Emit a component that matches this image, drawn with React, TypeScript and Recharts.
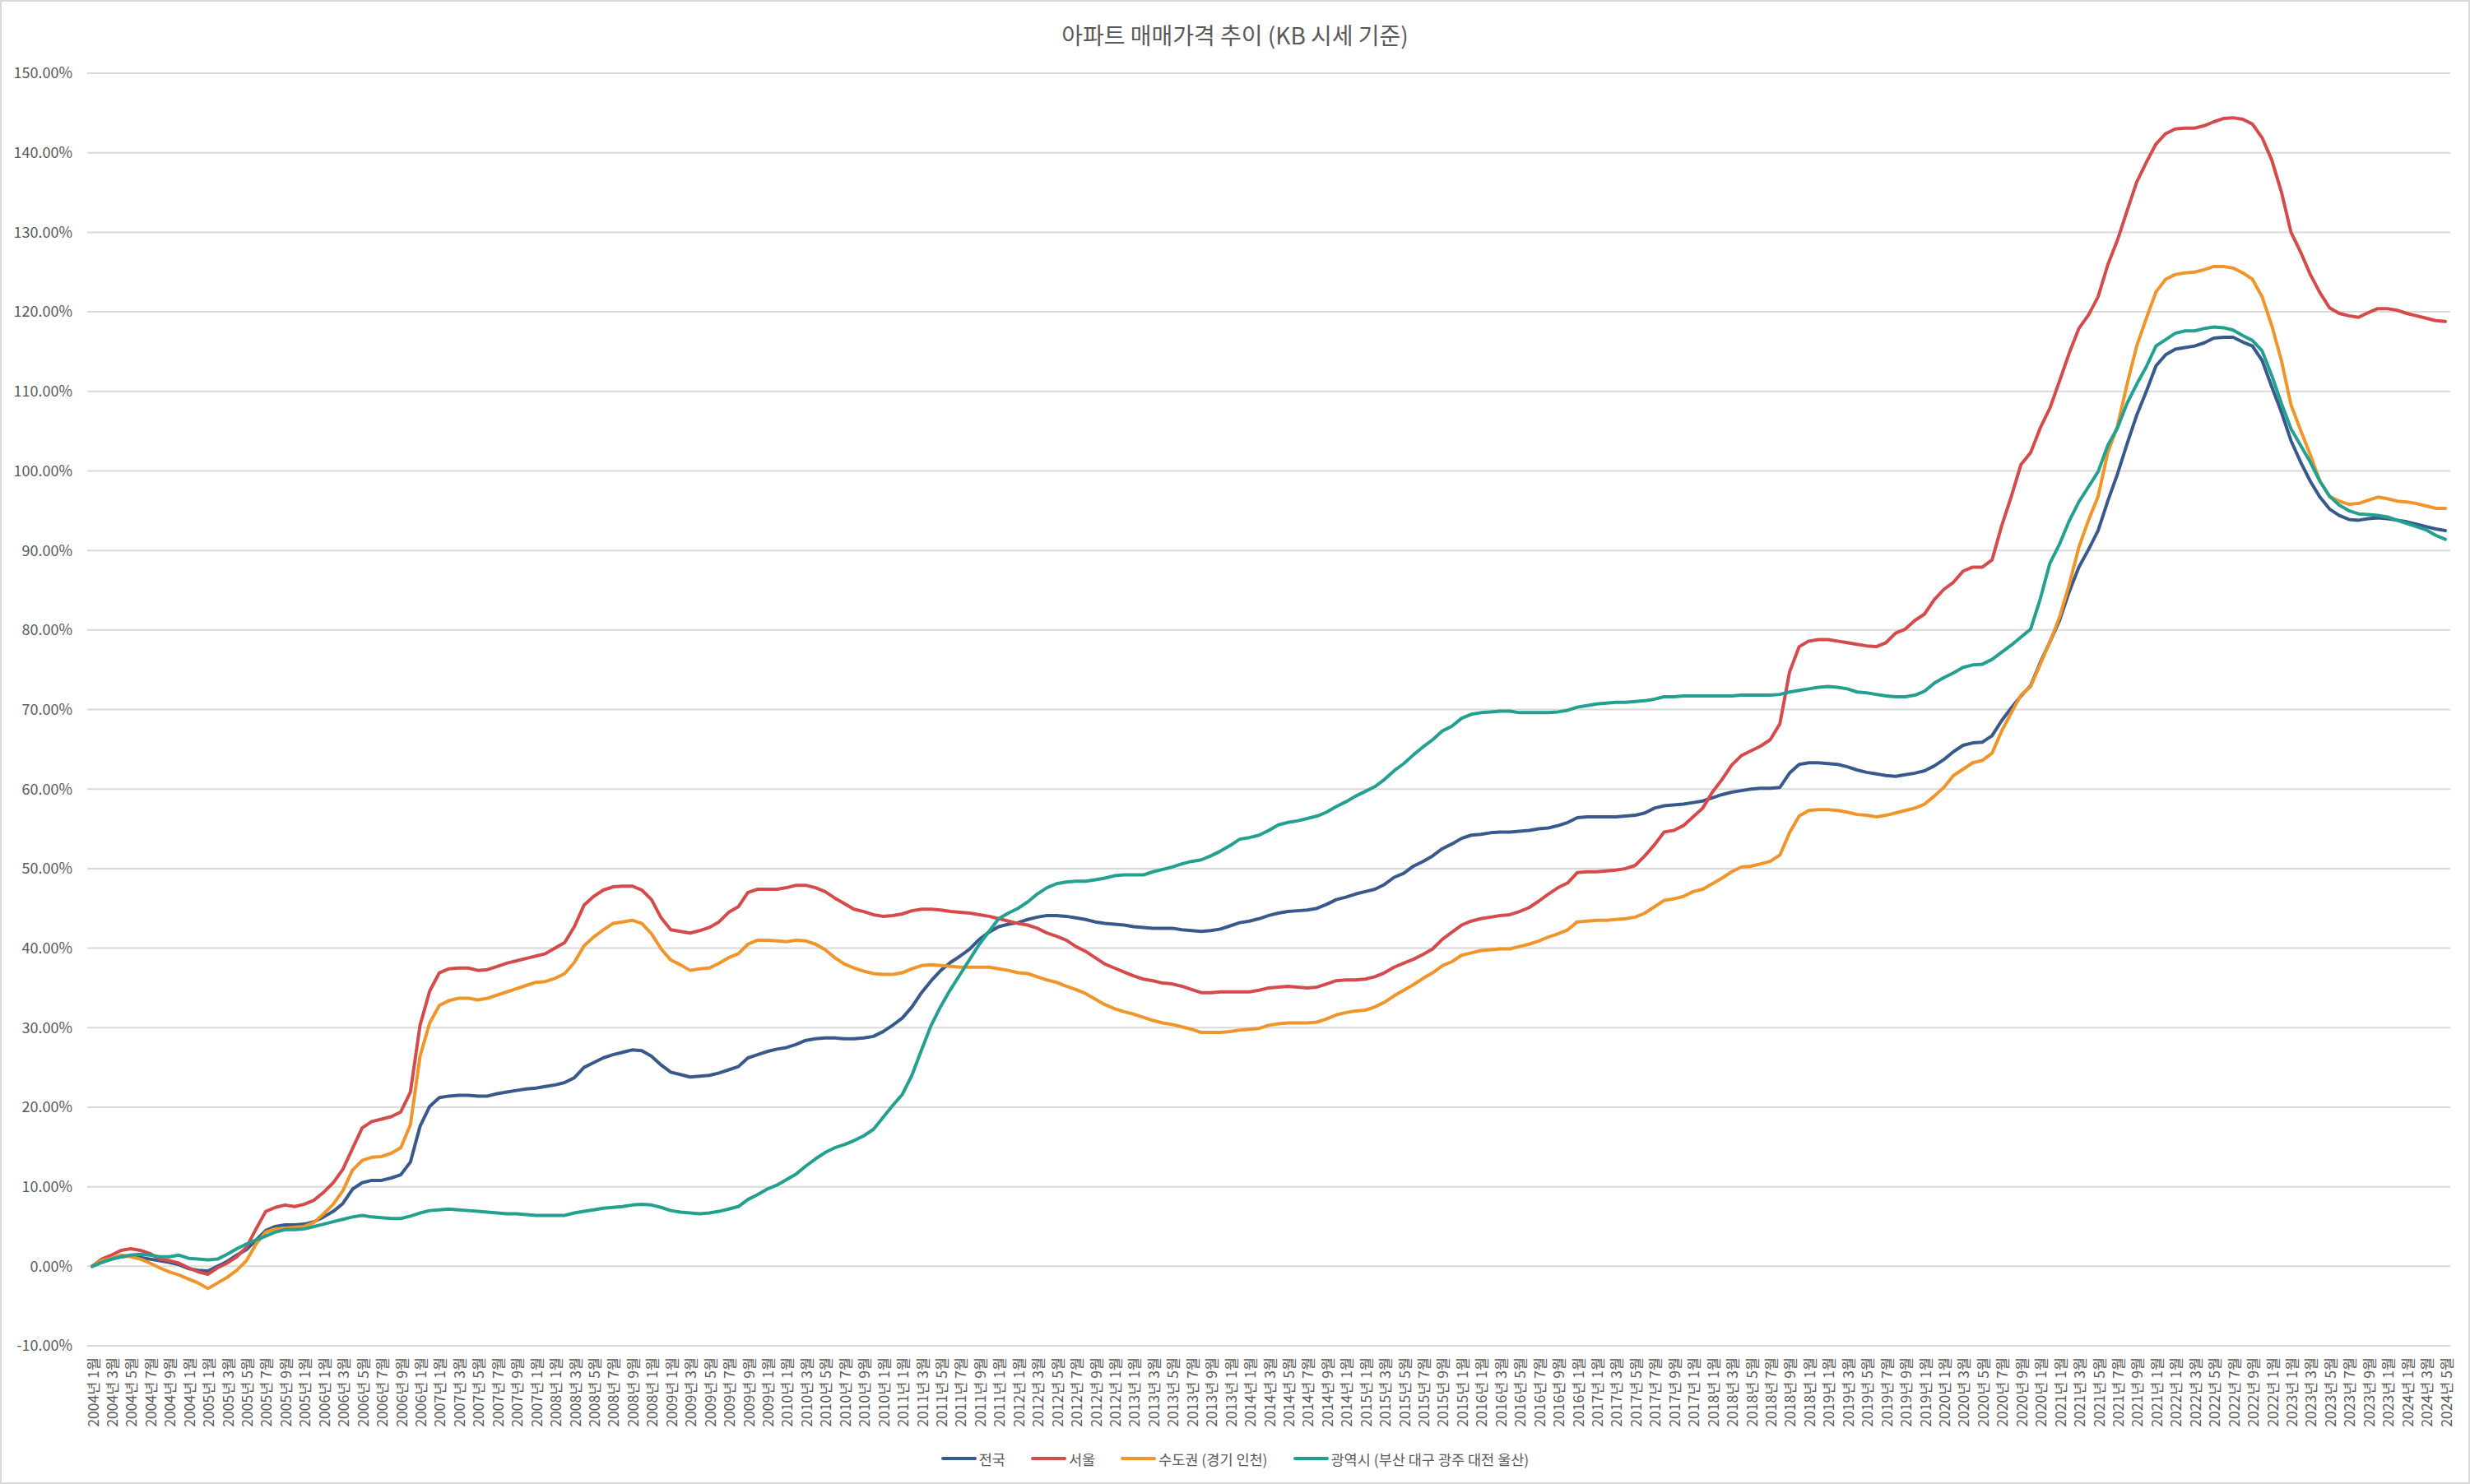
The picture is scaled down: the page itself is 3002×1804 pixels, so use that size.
import React from 'react'
import { LineChart, Line, XAxis, YAxis, CartesianGrid, Legend } from 'recharts'

const FONT = "'Noto Sans CJK KR', 'Noto Sans', sans-serif"
const TEXT = '#595959'
const W = 3002
const H = 1804

// 2004년 1월 ~ 2024년 5월 (월별)
const START_YEAR = 2004
const MONTH_COUNT = 245
const monthKeys: string[] = []
const tickLabels: string[] = []
for (let i = 0; i < MONTH_COUNT; i++) {
    const year = START_YEAR + Math.floor(i / 12)
    const month = (i % 12) + 1
    monthKeys.push(`${year}년 ${month}월`)
    // 원본 축에서는 11월 라벨이 "1월"로 잘려 보인다
    tickLabels.push(`${year}년 ${String(month).slice(-1)}월`)
}

// 누적 상승률 (%) — 한 줄에 1년
const nation = [
    0, 0.5, 0.9, 1.2, 1.3, 1.1, 0.9, 0.7, 0.5, 0.2, -0.3, -0.5,
    -0.6, 0, 0.6, 1.4, 2.1, 3.3, 4.5, 5.0, 5.2, 5.2, 5.3, 5.6,
    6.2, 6.9, 7.9, 9.7, 10.5, 10.8, 10.8, 11.1, 11.5, 13.1, 17.6, 20.1,
    21.2, 21.4, 21.5, 21.5, 21.4, 21.4, 21.7, 21.9, 22.1, 22.3, 22.4, 22.6,
    22.8, 23.1, 23.7, 25.0, 25.6, 26.2, 26.6, 26.9, 27.2, 27.1, 26.4, 25.3,
    24.4, 24.1, 23.8, 23.9, 24.0, 24.3, 24.7, 25.1, 26.2, 26.6, 27.0, 27.3,
    27.5, 27.9, 28.4, 28.6, 28.7, 28.7, 28.6, 28.6, 28.7, 28.9, 29.5, 30.3,
    31.2, 32.6, 34.4, 35.9, 37.2, 38.2, 39.0, 39.9, 41.1, 42.0, 42.7, 43.0,
    43.2, 43.6, 43.9, 44.1, 44.1, 44.0, 43.8, 43.6, 43.3, 43.1, 43.0, 42.9,
    42.7, 42.6, 42.5, 42.5, 42.5, 42.3, 42.2, 42.1, 42.2, 42.4, 42.8, 43.2,
    43.4, 43.7, 44.1, 44.4, 44.6, 44.7, 44.8, 45.0, 45.5, 46.1, 46.4, 46.8,
    47.1, 47.4, 48.0, 48.9, 49.4, 50.3, 50.9, 51.6, 52.5, 53.1, 53.8, 54.2,
    54.3, 54.5, 54.6, 54.6, 54.7, 54.8, 55.0, 55.1, 55.4, 55.8, 56.4, 56.5,
    56.5, 56.5, 56.5, 56.6, 56.7, 57.0, 57.6, 57.9, 58.0, 58.1, 58.3, 58.5,
    58.9, 59.3, 59.6, 59.8, 60.0, 60.1, 60.1, 60.2, 62.0, 63.1, 63.3, 63.3,
    63.2, 63.1, 62.8, 62.4, 62.1, 61.9, 61.7, 61.6, 61.8, 62.0, 62.3, 62.9,
    63.7, 64.7, 65.5, 65.8, 65.9, 66.7, 68.6, 70.2, 71.7, 73.0, 75.9, 78.5,
    81.2, 84.8, 87.9, 90.1, 92.5, 96.2, 99.6, 103.4, 107.0, 110.0, 113.2, 114.6,
    115.3, 115.5, 115.7, 116.1, 116.7, 116.8, 116.8, 116.2, 115.7, 113.9, 110.6, 107.4,
    103.8, 101.1, 98.7, 96.7, 95.2, 94.4, 93.9, 93.8, 94.0, 94.1, 94.0, 93.8,
    93.6, 93.3, 93.0, 92.7, 92.5,
]

const seoul = [
    0, 0.9, 1.4, 2.0, 2.2, 2.0, 1.6, 0.9, 0.7, 0.4, -0.2, -0.7,
    -1.0, -0.2, 0.4, 1.2, 2.4, 4.7, 6.9, 7.4, 7.7, 7.5, 7.8, 8.3,
    9.3, 10.5, 12.2, 14.8, 17.4, 18.2, 18.5, 18.8, 19.4, 21.9, 30.3, 34.6,
    36.9, 37.4, 37.5, 37.5, 37.2, 37.3, 37.7, 38.1, 38.4, 38.7, 39.0, 39.3,
    40.0, 40.7, 42.7, 45.4, 46.5, 47.3, 47.7, 47.8, 47.8, 47.3, 46.1, 43.8,
    42.3, 42.1, 41.9, 42.2, 42.6, 43.3, 44.5, 45.2, 47.0, 47.4, 47.4, 47.4,
    47.6, 47.9, 47.9, 47.6, 47.1, 46.3, 45.6, 44.9, 44.6, 44.2, 44.0, 44.1,
    44.3, 44.7, 44.9, 44.9, 44.8, 44.6, 44.5, 44.4, 44.2, 44.0, 43.7, 43.4,
    43.1, 42.9, 42.5, 41.9, 41.5, 41.0, 40.2, 39.6, 38.8, 38.0, 37.5, 37.0,
    36.5, 36.1, 35.9, 35.6, 35.5, 35.2, 34.8, 34.4, 34.4, 34.5, 34.5, 34.5,
    34.5, 34.7, 35.0, 35.1, 35.2, 35.1, 35.0, 35.1, 35.5, 35.9, 36.0, 36.0,
    36.1, 36.4, 36.9, 37.6, 38.1, 38.6, 39.2, 39.9, 41.1, 42.0, 42.9, 43.4,
    43.7, 43.9, 44.1, 44.2, 44.6, 45.1, 45.9, 46.8, 47.6, 48.2, 49.5, 49.6,
    49.6, 49.7, 49.8, 50.0, 50.4, 51.6, 53.0, 54.6, 54.8, 55.4, 56.5, 57.6,
    59.6, 61.2, 63.0, 64.2, 64.8, 65.4, 66.2, 68.2, 74.7, 77.9, 78.6, 78.8,
    78.8, 78.6, 78.4, 78.2, 78.0, 77.9, 78.4, 79.6, 80.1, 81.2, 82.0, 83.8,
    85.1, 86.0, 87.4, 87.9, 87.9, 88.8, 93.1, 96.8, 100.8, 102.3, 105.4, 107.9,
    111.3, 114.8, 117.9, 119.6, 121.9, 125.9, 129.0, 132.7, 136.3, 138.8, 141.1, 142.4,
    143.0, 143.1, 143.1, 143.4, 143.9, 144.3, 144.4, 144.2, 143.6, 141.9, 139.1, 135.1,
    130.0, 127.5, 124.7, 122.4, 120.5, 119.8, 119.5, 119.3, 119.9, 120.4, 120.4, 120.2,
    119.8, 119.5, 119.2, 118.9, 118.8,
]

const capital = [
    0, 0.7, 1.0, 1.4, 1.2, 0.9, 0.4, -0.2, -0.7, -1.1, -1.6, -2.1,
    -2.8, -2.1, -1.4, -0.5, 0.7, 2.8, 4.3, 4.7, 4.8, 4.9, 5.0, 5.5,
    6.6, 7.8, 9.5, 12.1, 13.3, 13.7, 13.8, 14.2, 14.9, 17.8, 26.4, 30.6,
    32.8, 33.4, 33.7, 33.7, 33.5, 33.7, 34.1, 34.5, 34.9, 35.3, 35.7, 35.8,
    36.2, 36.8, 38.2, 40.3, 41.4, 42.3, 43.1, 43.3, 43.5, 43.1, 41.8, 39.9,
    38.5, 37.9, 37.2, 37.4, 37.5, 38.1, 38.8, 39.3, 40.5, 41.0, 41.0, 40.9,
    40.8, 41.0, 40.9, 40.5, 39.8, 38.8, 38.0, 37.5, 37.1, 36.8, 36.7, 36.7,
    36.9, 37.4, 37.8, 37.9, 37.8, 37.7, 37.6, 37.6, 37.6, 37.6, 37.4, 37.2,
    36.9, 36.8, 36.4, 36.0, 35.7, 35.2, 34.8, 34.3, 33.6, 32.9, 32.4, 32.0,
    31.7, 31.3, 30.9, 30.6, 30.4, 30.1, 29.8, 29.4, 29.4, 29.4, 29.5, 29.7,
    29.8, 29.9, 30.3, 30.5, 30.6, 30.6, 30.6, 30.7, 31.1, 31.6, 31.9, 32.1,
    32.2, 32.6, 33.2, 34.0, 34.7, 35.4, 36.2, 36.9, 37.8, 38.3, 39.1, 39.4,
    39.7, 39.8, 39.9, 39.9, 40.2, 40.5, 40.9, 41.4, 41.8, 42.3, 43.3, 43.4,
    43.5, 43.5, 43.6, 43.7, 43.9, 44.4, 45.2, 46.0, 46.2, 46.5, 47.1, 47.4,
    48.1, 48.8, 49.6, 50.2, 50.3, 50.6, 50.9, 51.7, 54.5, 56.6, 57.3, 57.4,
    57.4, 57.3, 57.1, 56.8, 56.7, 56.5, 56.7, 57.0, 57.3, 57.6, 58.1, 59.1,
    60.2, 61.7, 62.5, 63.3, 63.6, 64.5, 67.3, 69.6, 71.8, 72.9, 75.7, 78.5,
    81.6, 85.7, 90.4, 93.8, 96.8, 102.3, 105.6, 110.9, 115.7, 119.2, 122.5, 124.1,
    124.7, 124.9, 125.0, 125.3, 125.7, 125.7, 125.5, 124.9, 124.1, 121.9, 118.3, 113.9,
    108.3, 105.1, 102.0, 98.7, 96.8, 96.2, 95.8, 95.9, 96.3, 96.7, 96.5, 96.2,
    96.1, 95.9, 95.6, 95.3, 95.3,
]

const metro = [
    0, 0.5, 0.9, 1.2, 1.4, 1.5, 1.4, 1.2, 1.2, 1.4, 1.0, 0.9,
    0.8, 0.9, 1.5, 2.2, 2.8, 3.3, 3.8, 4.3, 4.6, 4.6, 4.7, 5.0,
    5.3, 5.6, 5.9, 6.2, 6.4, 6.2, 6.1, 6.0, 6.0, 6.3, 6.7, 7.0,
    7.1, 7.2, 7.1, 7.0, 6.9, 6.8, 6.7, 6.6, 6.6, 6.5, 6.4, 6.4,
    6.4, 6.4, 6.7, 6.9, 7.1, 7.3, 7.4, 7.5, 7.7, 7.8, 7.7, 7.4,
    7.0, 6.8, 6.7, 6.6, 6.7, 6.9, 7.2, 7.5, 8.4, 9.0, 9.7, 10.2,
    10.9, 11.6, 12.6, 13.5, 14.3, 14.9, 15.3, 15.8, 16.4, 17.2, 18.7, 20.2,
    21.6, 24.0, 27.2, 30.3, 32.7, 34.8, 36.7, 38.6, 40.5, 42.1, 43.7, 44.4,
    45.0, 45.8, 46.8, 47.6, 48.1, 48.3, 48.4, 48.4, 48.6, 48.8, 49.1, 49.2,
    49.2, 49.2, 49.6, 49.9, 50.2, 50.6, 50.9, 51.1, 51.6, 52.2, 52.9, 53.7,
    53.9, 54.2, 54.8, 55.5, 55.8, 56.0, 56.3, 56.6, 57.1, 57.8, 58.4, 59.1,
    59.7, 60.3, 61.2, 62.3, 63.2, 64.3, 65.3, 66.2, 67.3, 67.9, 68.9, 69.4,
    69.6, 69.7, 69.8, 69.8, 69.6, 69.6, 69.6, 69.6, 69.7, 69.9, 70.3, 70.5,
    70.7, 70.8, 70.9, 70.9, 71.0, 71.1, 71.3, 71.6, 71.6, 71.7, 71.7, 71.7,
    71.7, 71.7, 71.7, 71.8, 71.8, 71.8, 71.8, 71.9, 72.2, 72.4, 72.6, 72.8,
    72.9, 72.8, 72.6, 72.2, 72.1, 71.9, 71.7, 71.6, 71.6, 71.8, 72.3, 73.3,
    74.0, 74.6, 75.3, 75.6, 75.7, 76.3, 77.2, 78.1, 79.1, 80.1, 83.9, 88.4,
    90.8, 93.7, 96.1, 98.0, 99.9, 103.2, 105.4, 108.5, 110.9, 113.1, 115.7, 116.5,
    117.3, 117.6, 117.6, 117.9, 118.1, 118.0, 117.7, 117.0, 116.4, 115.1, 112.0, 108.5,
    105.3, 103.2, 101.1, 98.7, 96.8, 95.7, 95.0, 94.6, 94.5, 94.4, 94.2, 93.8,
    93.4, 93.0, 92.6, 91.9, 91.4,
]

const yTicks = [-10, 0, 10, 20, 30, 40, 50, 60, 70, 80, 90, 100, 110, 120, 130, 140, 150]

const series = [
    { key: 'nation', name: '전국', color: '#37598c', values: nation },
    { key: 'seoul', name: '서울', color: '#d54b4b', values: seoul },
    { key: 'capital', name: '수도권 (경기 인천)', color: '#f0952a', values: capital },
    { key: 'metro', name: '광역시 (부산 대구 광주 대전 울산)', color: '#23a08f', values: metro },
]

const data = monthKeys.map((month, i) => {
    const row: { [key: string]: string | number } = { month }
    series.forEach((s) => { row[s.key] = s.values[i] })
    return row
})

const tickLabelOf: { [key: string]: string } = {}
monthKeys.forEach((k, i) => { tickLabelOf[k] = tickLabels[i] })

const XTick = ({ x, y, payload }: any) => (
    <text
        x={x}
        y={y}
        transform={`rotate(-90 ${x} ${y})`}
        textAnchor="end"
        dominantBaseline="central"
        fontSize={17.5}
        fontFamily={FONT}
        fill={TEXT}
    >
        {tickLabelOf[payload.value]}
    </text>
)

const LegendContent = () => (
    <div style={{
        display: 'flex',
        justifyContent: 'center',
        alignItems: 'center',
        height: 40,
        gap: 31,
        fontFamily: FONT,
        fontSize: 17.5,
        color: TEXT,
    }}>
        {series.map((s) => (
            <div key={s.key} style={{ display: 'flex', alignItems: 'center' }}>
                <span style={{
                    display: 'inline-block',
                    width: 43,
                    height: 4,
                    borderRadius: 2,
                    background: s.color,
                    marginRight: 3,
                }} />
                <span>{s.name}</span>
            </div>
        ))}
    </div>
)

export default function App() {
    return (
        <div style={{
            position: 'absolute',
            left: 0,
            top: 0,
            width: W,
            height: H,
            background: '#fff',
            border: '2px solid #d9d9d9',
            boxSizing: 'border-box',
            fontFamily: FONT,
        }}>
            <div style={{
                position: 'absolute',
                top: 20,
                left: 0,
                width: W - 4,
                textAlign: 'center',
                fontSize: 28,
                lineHeight: '40px',
                color: TEXT,
            }}>
                아파트 매매가격 추이 (KB 시세 기준)
            </div>
            <div style={{ position: 'absolute', left: -2, top: -2 }}>
                <LineChart
                    width={W}
                    height={H}
                    data={data}
                    margin={{ top: 89, right: 24, left: 0, bottom: 11 }}
                    style={{ fontFamily: FONT }}
                >
                    <CartesianGrid vertical={false} stroke="#d9d9d9" strokeWidth={2} />
                    <XAxis
                        dataKey="month"
                        interval={1}
                        height={117}
                        tickSize={0}
                        tickMargin={14}
                        axisLine={false}
                        tickLine={false}
                        padding={{ left: 6, right: 6 }}
                        tick={<XTick />}
                    />
                    <YAxis
                        domain={[-10, 150]}
                        ticks={yTicks}
                        width={106}
                        tickSize={0}
                        tickMargin={18}
                        axisLine={false}
                        tickLine={false}
                        tick={{ fontSize: 18, fill: TEXT, fontFamily: FONT }}
                        tickFormatter={(v: number) => `${v.toFixed(2)}%`}
                    />
                    <Legend
                        verticalAlign="bottom"
                        content={<LegendContent />}
                        wrapperStyle={{ left: 0, width: W, bottom: 11, height: 40 }}
                    />
                    {series.map((s) => (
                        <Line
                            key={s.key}
                            type="linear"
                            dataKey={s.key}
                            name={s.name}
                            stroke={s.color}
                            strokeWidth={4}
                            strokeLinejoin="round"
                            strokeLinecap="round"
                            dot={false}
                            activeDot={false}
                            isAnimationActive={false}
                        />
                    ))}
                </LineChart>
            </div>
        </div>
    )
}
